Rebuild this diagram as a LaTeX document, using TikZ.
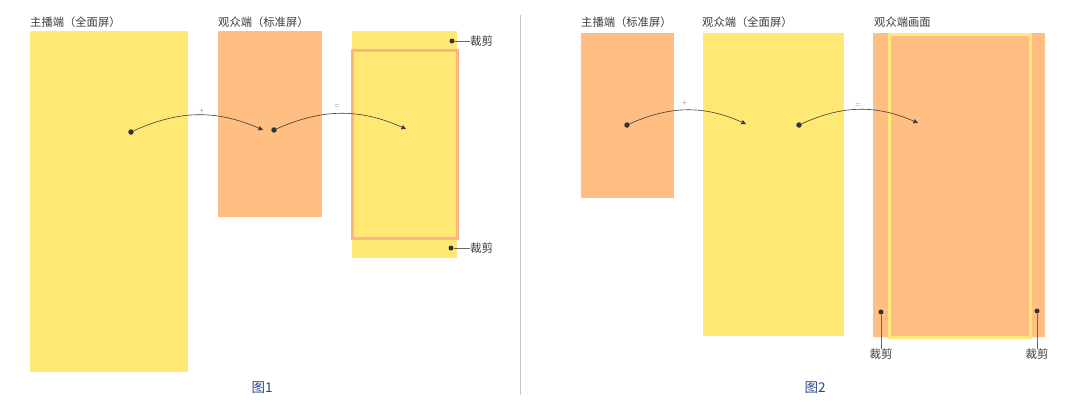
\documentclass[tikz,border=0pt]{standalone}
\usepackage{fontspec}
\newfontfamily\cjk{Noto Sans CJK SC}
\usetikzlibrary{arrows.meta}
\definecolor{ylw}{RGB}{255,232,115}
\definecolor{org}{RGB}{255,190,130}
\definecolor{orgline}{RGB}{255,178,130}
\definecolor{ylwline}{RGB}{255,234,120}
\definecolor{txt}{RGB}{60,60,60}
\definecolor{cap}{RGB}{40,70,140}
\definecolor{arr}{RGB}{60,60,60}
\tikzset{
  title/.style={anchor=west,inner sep=0pt,font=\cjk\fontsize{11.3}{11.3}\selectfont,text=txt},
  croplbl/.style={inner sep=0pt,font=\cjk\fontsize{11.5}{11.5}\selectfont,text=txt},
  caption/.style={inner sep=0pt,font=\cjk\fontsize{13.5}{13.5}\selectfont,text=cap},
  dotnode/.style={circle,fill=black!80,inner sep=0pt,minimum size=5.5pt},
  flowarrow/.style={draw=arr,line width=0.6pt,-{Triangle[width=4.5pt,length=4.5pt]}},
  oplbl/.style={inner sep=0pt,font=\fontsize{6}{6}\selectfont,text=black!60},
  cropline/.style={draw=black!60,line width=0.6pt},
}
\begin{document}
\begin{tikzpicture}[x=1pt,y=-1pt]
\useasboundingbox (0,0) rectangle (1080,404);
% ---------- figure 1 ----------
\fill[ylw] (30,31) rectangle (188,372);
\fill[org] (218,31) rectangle (322,217);
\fill[ylw] (352,31) rectangle (457,258);
\draw[orgline,line width=3pt] (352.5,50.5) rectangle (457.5,238.5);
\node[title] (t1) at (30,22.5) {主播端（全面屏）};
\node[title] (t2) at (218,22.5) {观众端（标准屏）};
\node[dotnode] (a1) at (131,132) {};
\node[dotnode] (a2) at (274,130) {};
\coordinate (a1e) at (263,130);
\coordinate (a2e) at (406,129);
\draw[flowarrow] (a1) to[bend left=24] (a1e);
\draw[flowarrow] (a2) to[bend left=24] (a2e);
\node[oplbl] (p1) at (202,111) {+};
\node[oplbl] (e1) at (337,106) {=};
\node[dotnode,minimum size=5pt] (c1) at (452,41) {};
\node[croplbl,anchor=west] (c1t) at (470,41) {裁剪};
\draw[cropline] (c1) -- (c1t.west);
\node[dotnode,minimum size=5pt] (c2) at (451,248) {};
\node[croplbl,anchor=west] (c2t) at (470,248) {裁剪};
\draw[cropline] (c2) -- (c2t.west);
\node[caption] (f1) at (262,388) {图1};
% divider
\coordinate (dvt) at (520,15);
\coordinate (dvb) at (520,395);
\draw[black!22,line width=0.8pt] (dvt) -- (dvb);
% ---------- figure 2 ----------
\fill[org] (581,33) rectangle (674,198);
\fill[ylw] (703,33) rectangle (844,336);
\fill[org] (873,33) rectangle (1045,337);
\draw[ylwline,line width=3pt] (889.5,34.5) rectangle (1030,337);
\node[title] (t3) at (581,22.5) {主播端（标准屏）};
\node[title] (t4) at (702,22.5) {观众端（全面屏）};
\node[title] (t5) at (874,22.5) {观众端画面};
\node[dotnode] (b1) at (627,125) {};
\node[dotnode] (b2) at (799,125) {};
\coordinate (b1e) at (746,124);
\coordinate (b2e) at (918,123);
\draw[flowarrow] (b1) to[bend left=24] (b1e);
\draw[flowarrow] (b2) to[bend left=24] (b2e);
\node[oplbl] (p2) at (685,103) {+};
\node[oplbl] (e2) at (858,105) {=};
\node[dotnode,minimum size=5pt] (d1) at (881,312) {};
\node[croplbl,anchor=north] (d1t) at (881,349) {裁剪};
\draw[cropline] (d1) -- (d1t.north);
\node[dotnode,minimum size=5pt] (d2) at (1037,311) {};
\node[croplbl,anchor=north] (d2t) at (1037,349) {裁剪};
\draw[cropline] (d2) -- (d2t.north);
\node[caption] (f2) at (815,388) {图2};
\end{tikzpicture}
\end{document}
